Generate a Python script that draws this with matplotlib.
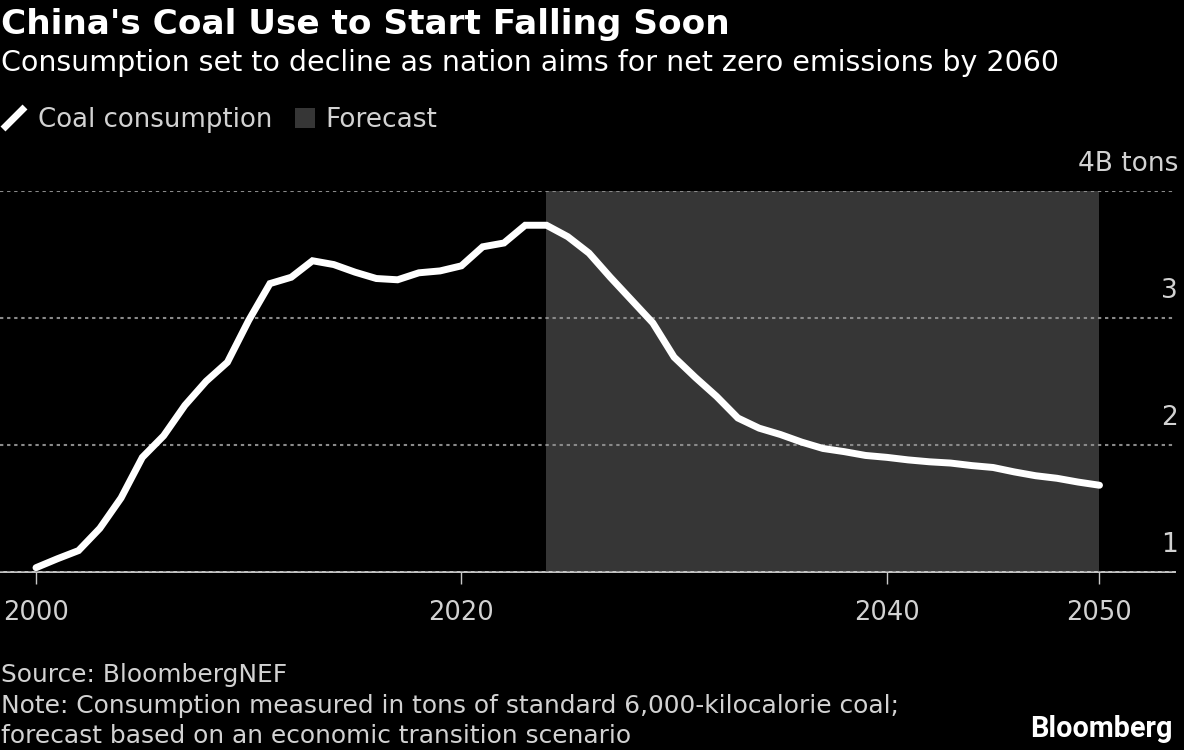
import matplotlib
matplotlib.use("Agg")
import matplotlib.pyplot as plt
from matplotlib.lines import Line2D
from matplotlib.patches import Rectangle

# values, billion tons
years = list(range(2000, 2051))
coal = [1.03, 1.10, 1.165, 1.34, 1.58, 1.90, 2.07, 2.31, 2.50, 2.65,
        2.98, 3.27, 3.32, 3.45, 3.42, 3.36, 3.31, 3.30, 3.355, 3.37,
        3.41, 3.56, 3.59, 3.73, 3.73, 3.64, 3.51, 3.32, 3.14, 2.96,
        2.69, 2.53, 2.38, 2.21, 2.13, 2.08, 2.02, 1.97, 1.945, 1.915,
        1.90, 1.88, 1.865, 1.855, 1.835, 1.82, 1.785, 1.755, 1.735, 1.705, 1.68]
forecast_start = 2024
forecast_end = 2050
x_ticks = [2000, 2020, 2040, 2050]
y_ticks = [1, 2, 3, 4]
y_labels = ["1", "2", "3", "4B tons"]

W, H = 1184, 750
BG = "black"
FORECAST = "#363636"
TEXT = "#d2d2d2"
FONT = "DejaVu Sans"

plt.rcParams["font.family"] = FONT

fig = plt.figure(figsize=(W / 100, H / 100), dpi=100, facecolor=BG)


def fx(px):
    return px / W


def fy(py):
    return 1 - py / H


# axes box in pixels: left 0, right 1175, top 191, bottom 571.5
ax = fig.add_axes([0, fy(571.5), fx(1175), (571.5 - 191) / H], facecolor=BG)
px_per_year = 21.27
ax.set_xlim(2000 - 36 / px_per_year, 2000 + (1175 - 36) / px_per_year)
ax.set_ylim(1, 4)

ax.axvspan(forecast_start, forecast_end, color=FORECAST, lw=0, zorder=1)
ax.yaxis.grid(True, color="#8a8a8a", lw=1.5, ls=(0, (1.6, 1.8)), zorder=2)
ax.xaxis.grid(False)
ax.set_axisbelow(False)
ax.plot(years, coal, color="white", lw=5, solid_capstyle="round",
        solid_joinstyle="miter", clip_on=False, zorder=3)

for s in ["top", "left", "right"]:
    ax.spines[s].set_visible(False)
ax.spines["bottom"].set_color("#c8c8c8")
ax.spines["bottom"].set_linewidth(1.4)
ax.set_xticks(x_ticks)
ax.set_xticklabels([str(y) for y in x_ticks])
ax.tick_params(axis="x", colors="#c8c8c8", labelcolor=TEXT, length=8.5, width=1,
               pad=12, labelsize=18.5)
ax.set_yticks(y_ticks)
ax.tick_params(axis="y", left=False, labelleft=False)

for v, lab in zip(y_ticks, y_labels):
    ax.annotate(lab, (1, v), xycoords=("axes fraction", "data"), xytext=(3, 14),
                textcoords="offset pixels", ha="right", va="bottom",
                color=TEXT, fontsize=19)

fig.text(fx(1), fy(34), "China's Coal Use to Start Falling Soon", color="white",
         fontsize=24.7, fontweight="bold", va="baseline")
fig.text(fx(1), fy(71), "Consumption set to decline as nation aims for net zero emissions by 2060",
         color="white", fontsize=20.5, va="baseline")

# legend
fig.add_artist(Line2D([fx(3), fx(25)], [fy(129), fy(107)], color="white", lw=5,
                      solid_capstyle="butt"))
fig.text(fx(38), fy(127), "Coal consumption", color=TEXT, fontsize=18.7, va="baseline")
fig.add_artist(Rectangle((fx(295), fy(128)), 20 / W, 20 / H, transform=fig.transFigure,
                         facecolor=FORECAST, edgecolor="none"))
fig.text(fx(325), fy(127), "Forecast", color=TEXT, fontsize=19, va="baseline")

# footer
fig.text(fx(1), fy(682), "Source: BloombergNEF", color=TEXT, fontsize=17.9, va="baseline")
fig.text(fx(1), fy(713), "Note: Consumption measured in tons of standard 6,000-kilocalorie coal;",
         color=TEXT, fontsize=17.9, va="baseline")
fig.text(fx(1), fy(743), "forecast based on an economic transition scenario",
         color=TEXT, fontsize=17.9, va="baseline")
fig.text(fx(1172), fy(737), "Bloomberg", color="white", fontsize=20.7, fontweight="bold",
         family="Roboto", ha="right", va="baseline")

fig.savefig("out.png", dpi=100, facecolor=BG)
